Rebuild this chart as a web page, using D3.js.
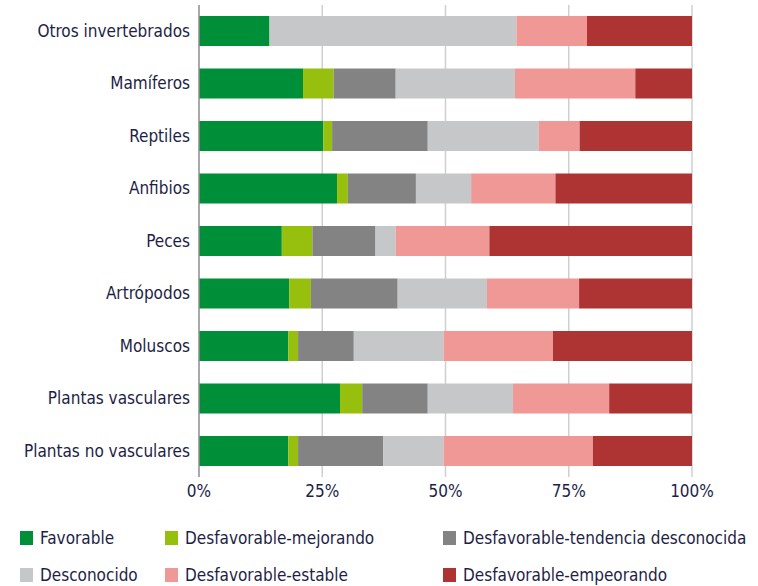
<!DOCTYPE html>
<html>
<head>
<meta charset="utf-8">
<script src="https://cdn.jsdelivr.net/npm/d3@7"></script>
<style>
  body { margin: 0; background: #fff; }
  text { font-family: "Liberation Sans Narrow", "DejaVu Sans Condensed", sans-serif; fill: #1e1e46; }
</style>
</head>
<body>
<div id="chart"></div>
<script>
var categories = ["Otros invertebrados", "Mamíferos", "Reptiles", "Anfibios", "Peces",
    "Artrópodos", "Moluscos", "Plantas vasculares", "Plantas no vasculares"];
var seriesNames = ["Favorable", "Desfavorable-mejorando", "Desfavorable-tendencia desconocida",
    "Desconocido", "Desfavorable-estable", "Desfavorable-empeorando"];
var favorable      = [14.3, 21.1, 25.2, 28.0, 16.8, 18.3, 18.1, 28.6, 18.1];
var mejorando      = [0.0, 6.2, 1.8, 2.2, 6.2, 4.4, 2.0, 4.5, 2.0];
var tendenciaDesc  = [0.0, 12.6, 19.4, 13.8, 12.8, 17.6, 11.3, 13.3, 17.3];
var desconocido    = [50.1, 24.2, 22.5, 11.2, 4.1, 18.1, 18.2, 17.3, 12.2];
var estable        = [14.3, 24.4, 8.3, 17.1, 19.0, 18.7, 22.2, 19.5, 30.3];
var empeorando     = [21.3, 11.5, 22.8, 27.7, 41.1, 22.9, 28.2, 16.8, 20.1];
var tickValues = [0, 25, 50, 75, 100];
var colors = ["#008f39", "#97c00e", "#838383", "#c6c7c8", "#f09896", "#ad3432"];

var width = 758, height = 586;
var allSeries = [favorable, mejorando, tendenciaDesc, desconocido, estable, empeorando];

var table = categories.map(function (c, i) {
    var row = { cat: c };
    seriesNames.forEach(function (s, j) { row[s] = allSeries[j][i]; });
    return row;
});

var stack = d3.stack().keys(seriesNames);
var layers = stack(table);

var svg = d3.select("#chart")
    .append("svg")
    .attr("width", width)
    .attr("height", height);

var x = d3.scaleLinear().domain([0, 100]).range([199, 692]);
var y = d3.scaleBand()
    .domain(categories)
    .range([4.75, 477.25])
    .paddingInner(0.4286)
    .paddingOuter(0.2143);

var color = d3.scaleOrdinal().domain(seriesNames).range(colors);

// vertical gridlines
svg.selectAll(".grid")
    .data(tickValues.slice(1))
    .enter()
    .append("line")
    .attr("x1", function (d) { return x(d); })
    .attr("x2", function (d) { return x(d); })
    .attr("y1", 5)
    .attr("y2", 477)
    .attr("stroke", "#cfcfcf")
    .attr("stroke-width", 1.5);

// bars
svg.selectAll(".layer")
    .data(layers)
    .enter()
    .append("g")
    .attr("fill", function (d) { return color(d.key); })
    .selectAll("rect")
    .data(function (d) { return d; })
    .enter()
    .append("rect")
    .attr("x", function (d) { return x(d[0]); })
    .attr("width", function (d) { return x(d[1]) - x(d[0]); })
    .attr("y", function (d) { return y(d.data.cat); })
    .attr("height", y.bandwidth());

// left axis line
svg.append("line")
    .attr("x1", x(0)).attr("x2", x(0))
    .attr("y1", 5).attr("y2", 477)
    .attr("stroke", "#8c8c8c")
    .attr("stroke-width", 1.5);

// category labels
svg.selectAll(".cat")
    .data(categories)
    .enter()
    .append("text")
    .attr("x", 190)
    .attr("y", function (d) { return y(d) + y.bandwidth() / 2; })
    .attr("dy", "0.35em")
    .attr("text-anchor", "end")
    .style("font-size", "17px")
    .text(function (d) { return d; });

// x tick labels
svg.selectAll(".tick")
    .data(tickValues)
    .enter()
    .append("text")
    .attr("x", function (d) { return x(d); })
    .attr("y", 497)
    .attr("text-anchor", "middle")
    .style("font-size", "17px")
    .text(function (d) { return d + "%"; });

// legend
var legendPos = [[20, 538], [165, 538], [443, 538], [20, 575], [165, 575], [443, 575]];
var legend = svg.selectAll(".legend")
    .data(seriesNames)
    .enter()
    .append("g")
    .attr("transform", function (d, i) {
        return "translate(" + legendPos[i][0] + "," + legendPos[i][1] + ")";
    });
legend.append("rect")
    .attr("x", 0)
    .attr("y", -7)
    .attr("width", 13)
    .attr("height", 14)
    .attr("fill", function (d) { return color(d); });
legend.append("text")
    .attr("x", 20)
    .attr("dy", "0.35em")
    .style("font-size", "17px")
    .text(function (d) { return d; });
</script>
</body>
</html>
